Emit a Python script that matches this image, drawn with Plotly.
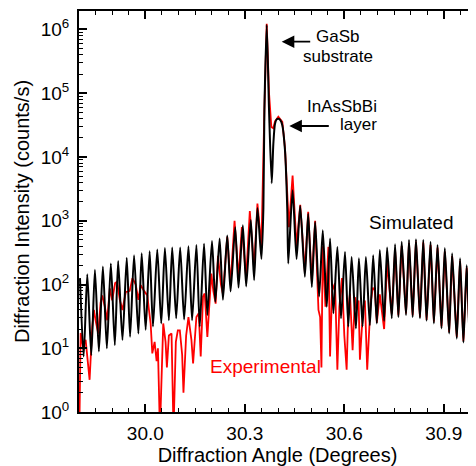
import plotly.graph_objects as go

# ---------------- data ----------------
sim_angle = [29.803, 29.814, 29.825, 29.837, 29.848, 29.860, 29.872, 29.884, 29.896, 29.908,
             29.918, 29.931, 29.944, 29.954, 29.966, 29.979, 29.989, 30.001, 30.013, 30.023,
             30.036, 30.048, 30.059, 30.071, 30.081, 30.093, 30.105, 30.117, 30.130, 30.141,
             30.154, 30.164, 30.177, 30.187, 30.201, 30.211, 30.224, 30.234, 30.247, 30.257,
             30.271, 30.281, 30.294, 30.304, 30.318, 30.328, 30.338, 30.350, 30.356, 30.359,
             30.366, 30.373, 30.381, 30.386, 30.391, 30.396, 30.401, 30.407, 30.413, 30.421,
             30.428, 30.431, 30.444, 30.456, 30.467, 30.481, 30.491, 30.502, 30.512, 30.524,
             30.535, 30.547, 30.557, 30.567, 30.579, 30.590, 30.602, 30.612, 30.622, 30.635,
             30.644, 30.655, 30.665, 30.677, 30.687, 30.698, 30.707, 30.720, 30.729, 30.743,
             30.753, 30.763, 30.773, 30.786, 30.795, 30.806, 30.816, 30.828, 30.838, 30.848,
             30.860, 30.870, 30.881, 30.893, 30.903, 30.916, 30.925, 30.939, 30.949, 30.959,
             30.969, 30.979, 30.989, 31.000]
sim_counts = [126, 7.4, 145, 7.8, 170, 8.9, 191, 10, 214, 11.2,
              234, 13.5, 263, 15.1, 288, 17.0, 309, 19.5, 331, 21.9,
              355, 24.5, 372, 27.5, 380, 29.5, 380, 28.2, 398, 27.5,
              417, 21.9, 437, 33.1, 479, 53.7, 525, 57.5, 589, 77.6,
              794, 89.1, 851, 93.3, 1023, 117, 1585, 251, 1585, 53700,
              1175000, 53700, 3890, 16200, 33100, 38900, 39800, 38000, 31600, 12900,
              1479, 214, 3020, 251, 1698, 132, 1288, 91.2, 955, 64.6,
              708, 44.7, 525, 35.5, 389, 29.5, 324, 21.9, 269, 20.4,
              257, 21.9, 269, 22.9, 288, 24.5, 347, 26.9, 380, 29.5,
              427, 30.9, 468, 33.1, 501, 30.9, 513, 29.5, 501, 26.9,
              468, 24.5, 417, 20.4, 372, 17.0, 309, 14.1, 257, 12.3,
              200, 10.5, 158, 8.9]

exp_angle = [29.801, 29.805, 29.812, 29.820, 29.825, 29.832, 29.840, 29.845, 29.850, 29.858,
             29.865, 29.870, 29.878, 29.885, 29.893, 29.900, 29.909, 29.915, 29.923, 29.931,
             29.941, 29.953, 29.961, 29.971, 29.979, 29.986, 29.996, 30.006, 30.011, 30.016,
             30.021, 30.028, 30.034, 30.038, 30.044, 30.054, 30.061, 30.065, 30.071, 30.079,
             30.085, 30.092, 30.098, 30.104, 30.111, 30.115, 30.123, 30.130, 30.139, 30.144,
             30.154, 30.161, 30.167, 30.174, 30.179, 30.187, 30.199, 30.205, 30.212, 30.219,
             30.228, 30.234, 30.247, 30.257, 30.269, 30.281, 30.291, 30.304, 30.315, 30.328,
             30.338, 30.350, 30.359, 30.366, 30.373, 30.380, 30.386, 30.391, 30.401, 30.413,
             30.421, 30.428, 30.433, 30.444, 30.456, 30.467, 30.481, 30.491, 30.502, 30.512,
             30.522, 30.527, 30.531, 30.535, 30.543, 30.552, 30.557, 30.563, 30.572, 30.579,
             30.585, 30.593, 30.600, 30.607, 30.612, 30.617, 30.625, 30.632, 30.637, 30.643,
             30.647, 30.657, 30.662, 30.669, 30.679, 30.686, 30.692, 30.698, 30.707, 30.720,
             30.729, 30.743, 30.753, 30.763, 30.773, 30.786, 30.795, 30.806, 30.816, 30.828,
             30.838, 30.848, 30.860, 30.870, 30.881, 30.893, 30.903, 30.916, 30.925, 30.939,
             30.949, 30.959, 30.969, 30.979, 30.989, 31.000]
exp_counts = [0.5, 17.4, 10.5, 13.5, 7.4, 3.2, 21.9, 39.8, 27.5, 17.0,
              51.3, 67.6, 44.7, 27.5, 87.1, 56.2, 105, 110, 57.5, 39.8,
              75.9, 79.4, 126, 100, 57.5, 97.7, 79.4, 67.6, 39.8, 24.5,
              8.3, 12.6, 6.3, 10, 0.5, 24.5, 12.6, 5.0, 15.8, 17.0,
              0.5, 12.6, 19.1, 19.1, 7.9, 2.0, 15.8, 30.9, 13.5, 5.8,
              30.9, 35.5, 7.4, 64.6, 72.4, 15.1, 148, 79.4, 50.1, 282,
              100, 70.8, 562, 100, 1000, 126, 794, 126, 1413, 178,
              1862, 398, 56200, 1230000, 100000, 29500, 28200, 36300, 42700, 35500,
              14100, 1995, 794, 5130, 398, 1778, 158, 1380, 112, 1000,
              39.8, 30.9, 5.0, 398, 44.7, 389, 7.4, 79.4, 105, 4.6,
              44.7, 126, 15.8, 4.6, 39.8, 72.4, 9.3, 63.1, 39.8, 56.2,
              6.6, 44.7, 56.2, 4.6, 50.1, 89.1, 81.3, 25.1, 70, 20,
              220, 35, 350, 33, 400, 35, 450, 33, 470, 31,
              460, 28, 420, 26, 380, 22, 330, 18, 280, 15,
              235, 13, 185, 11, 150, 9.5]

x_tick_vals = [30.0, 30.3, 30.6, 30.9]
x_tick_text = ["30.0", "30.3", "30.6", "30.9"]
x_minor_vals = [29.85, 29.9, 29.95, 30.05, 30.1, 30.15, 30.2, 30.25, 30.35, 30.4, 30.45,
                30.5, 30.55, 30.65, 30.7, 30.75, 30.8, 30.85, 30.95]
y_tick_vals = [1, 10, 100, 1000, 1e4, 1e5, 1e6]
y_tick_text = ["10<sup>0</sup>", "10<sup>1</sup>", "10<sup>2</sup>", "10<sup>3</sup>",
               "10<sup>4</sup>", "10<sup>5</sup>", "10<sup>6</sup>"]
y_minor_vals = [m * 10 ** k for k in range(0, 7) for m in range(2, 10)]

FONT = "Arial, Liberation Sans, sans-serif"

fig = go.Figure()
fig.add_trace(go.Scatter(x=exp_angle, y=exp_counts, mode="lines",
                         line=dict(color="#ff0000", width=1.8), showlegend=False))
fig.add_trace(go.Scatter(x=sim_angle, y=sim_counts, mode="lines",
                         line=dict(color="#000000", width=2.0, shape="spline", smoothing=0.7),
                         showlegend=False))
fig.add_trace(go.Scatter(x=[], y=[], yaxis="y2", showlegend=False))

axis_common = dict(ticks="inside", tickcolor="black", tickwidth=1.6, ticklen=8,
                   tickfont=dict(family=FONT, size=19, color="black"),
                   showgrid=False, zeroline=False)

# page body has an 8px margin -> figure drawn 8px right/down of the window corner
fig.update_layout(
    width=468, height=458,
    margin=dict(l=71, r=0, t=3, b=54),
    paper_bgcolor="white", plot_bgcolor="white",
    font=dict(family=FONT, color="black"),
    xaxis=dict(range=[29.8, 30.997], tickmode="array", tickvals=x_tick_vals, ticktext=x_tick_text,
               showline=True, linecolor="black", linewidth=2, mirror="ticks",
               minor=dict(tickmode="array", tickvals=x_minor_vals, ticks="inside",
                          ticklen=4, tickwidth=1.4, tickcolor="black"),
               title=dict(text="Diffraction Angle (Degrees)", font=dict(family=FONT, size=20),
                          standoff=3),
               ticklabelstandoff=3, automargin=False, **axis_common),
    yaxis=dict(type="log", range=[0, 6.29], tickmode="array", tickvals=y_tick_vals,
               ticktext=y_tick_text, showline=True, linecolor="black", linewidth=2,
               minor=dict(tickmode="array", tickvals=y_minor_vals, ticks="inside",
                          ticklen=4, tickwidth=1.4, tickcolor="black"),
               title=dict(text="Diffraction Intensity (counts/s)", font=dict(family=FONT, size=20),
                          standoff=6),
               ticklabelstandoff=4, automargin=False, **axis_common),
    yaxis2=dict(type="log", range=[0, 6.29], overlaying="y", side="right", anchor="x",
                tickmode="array", tickvals=y_tick_vals, showticklabels=False, showline=False,
                minor=dict(tickmode="array", tickvals=y_minor_vals, ticks="inside",
                           ticklen=4, tickwidth=1.4, tickcolor="black"),
                ticks="inside", tickcolor="black", tickwidth=1.6, ticklen=8,
                showgrid=False, zeroline=False),
)

ann_font = dict(family=FONT, size=17, color="black")
def label(x, y, text, font):
    fig.add_annotation(xref="paper", yref="paper", x=x, y=y, text=text, showarrow=False,
                       xanchor="center", yanchor="middle", font=font)

label(0.652, 0.936, "GaSb", ann_font)
label(0.652, 0.886, "substrate", ann_font)
label(0.662, 0.761, "InAsSbBi", ann_font)
label(0.705, 0.716, "layer", ann_font)
label(0.838, 0.472, "Simulated", dict(family=FONT, size=19, color="black"))
label(0.471, 0.113, "Experimental", dict(family=FONT, size=19, color="#ff0000"))
# arrows
fig.add_annotation(xref="paper", yref="paper", x=0.5106, y=0.9234, text="", showarrow=True,
                   ax=30, ay=0, arrowhead=2, arrowsize=1.4, arrowwidth=1.8, arrowcolor="black")
fig.add_annotation(xref="paper", yref="paper", x=0.5297, y=0.7132, text="", showarrow=True,
                   ax=41, ay=0, arrowhead=2, arrowsize=1.4, arrowwidth=1.8, arrowcolor="black")

fig.write_html("out.html")
